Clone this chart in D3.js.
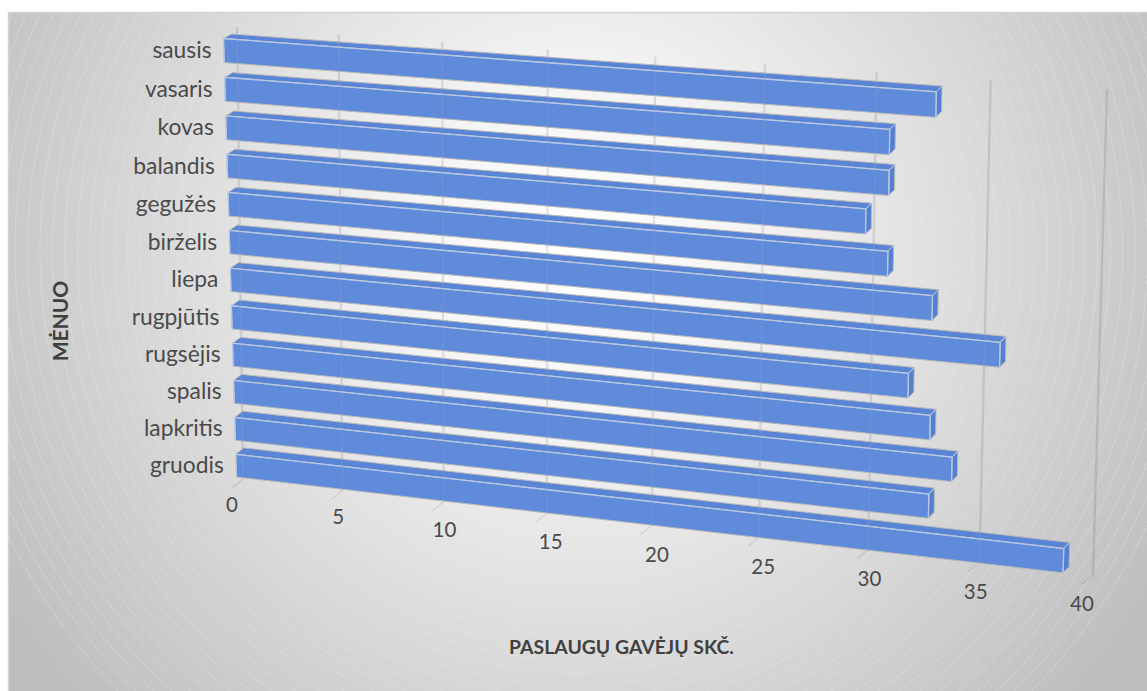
<!DOCTYPE html>
<html><head><meta charset="utf-8">
<script src="https://cdn.jsdelivr.net/npm/d3@7"></script>
<style>html,body{margin:0;padding:0;background:#fff}svg{display:block}text{font-family:Lato,"Open Sans",sans-serif}</style>
</head><body><svg id="c" width="1147" height="691"></svg>
<script>
const categories = ["sausis","vasaris","kovas","balandis","gegužės","birželis","liepa","rugpjūtis","rugsėjis","spalis","lapkritis","gruodis"];
const values = [33,31,31,30,31,33,36,32,33,34,33,39];
const valueTicks = [0,5,10,15,20,25,30,35,40];
const xTitle = "PASLAUGŲ GAVĖJŲ SKČ.";
const yTitle = "MĖNUO";

function quad(p00,p10,p11,p01){
  const [x0,y0]=p00,[x1,y1]=p10,[x2,y2]=p11,[x3,y3]=p01;
  const dx1=x1-x2,dx2=x3-x2,sx=x0-x1+x2-x3,dy1=y1-y2,dy2=y3-y2,sy=y0-y1+y2-y3;
  const den=dx1*dy2-dx2*dy1;
  const g=(sx*dy2-dx2*sy)/den,h=(dx1*sy-sx*dy1)/den;
  const a=x1-x0+g*x1,b=x3-x0+h*x3,d=y1-y0+g*y1,e=y3-y0+h*y3;
  return (u,w)=>{const q=g*u+h*w+1;return [(a*u+b*w+x0)/q,(d*u+e*w+y0)/q];};
}
const u = d3.scaleLinear().domain([0,40]).range([0,1]);
const band = d3.scaleBand().domain(categories).range([0,1]).paddingInner(0.38).paddingOuter(0);
const front = quad([223.5,38.5],[1100,104],[1086,575.5],[236.5,477]);
const back  = quad([231.5,34],[1106,98],[1092,569.5],[244.5,470.5]);
const wall  = quad([237,27],[1107,89],[1093,575],[243,479]);
const labelX = d3.scaleLinear().domain([0,40]).range([232,1082]);
const labelY = d3.scaleLinear().domain([0,40]).range([512,611]);

const svg = d3.select("#c");
const defs = svg.append("defs");
const W=1147,H=691,cx=575,cy=250;
const rg = defs.append("radialGradient").attr("id","bg").attr("gradientUnits","userSpaceOnUse")
  .attr("cx",cx).attr("cy",cy).attr("r",680);
[[0,"#ffffff"],[0.25,"#f4f4f4"],[0.55,"#dedede"],[0.85,"#c8c8c8"],[1,"#bdbdbd"]]
  .forEach(([o,c])=>rg.append("stop").attr("offset",o).attr("stop-color",c));
defs.append("clipPath").attr("id","area").append("rect").attr("x",8).attr("y",12).attr("width",W-8).attr("height",H-12);
const wt = d=>band(d.c), wb = d=>band(d.c)+band.bandwidth();
const P = pts=>"M"+pts.map(p=>p.join(",")).join("L")+"Z";
const rows = categories.map((c,i)=>({c,v:values[i]}));
defs.append("clipPath").attr("id","faces").selectAll("path").data(rows).join("path")
  .attr("d",d=>P([back(0,wt(d)),back(u(d.v),wt(d)),front(u(d.v),wt(d)),front(u(d.v),wb(d)),front(0,wb(d)),front(0,wt(d))]));

svg.append("rect").attr("x",8).attr("y",12).attr("width",W-8).attr("height",H-12).attr("fill","url(#bg)");
svg.append("path").attr("d",`M8.5,${H}V12.5H${W}`).attr("fill","none").attr("stroke","#d2d2d2").attr("stroke-width",1.5);

const rings = svg.append("g").attr("clip-path","url(#area)");
rings.selectAll("circle").data(d3.range(260,640,12.5)).join("circle")
  .attr("cx",cx).attr("cy",cy).attr("r",d=>d).attr("fill","none")
  .attr("stroke","#fff").attr("stroke-opacity",d=>0.1+0.22*(d-260)/380).attr("stroke-width",0.9).attr("stroke-dasharray","5 1");

const line = d3.line();
const grid = svg.append("g");
grid.selectAll("path.g").data(valueTicks).join("path").attr("class","g")
  .attr("d",v=>line([wall(u(v),0),wall(u(v),1)]))
  .attr("fill","none").attr("stroke","#000").attr("stroke-opacity",0.1).attr("stroke-width",2.3);
grid.selectAll("path.t").data(valueTicks).join("path").attr("class","t")
  .attr("d",v=>{const p=wall(u(v),1);return line([p,[p[0]-11,p[1]+9]]);})
  .attr("fill","none").attr("stroke","#000").attr("stroke-opacity",0.09).attr("stroke-width",1.4);
grid.selectAll("text").data(valueTicks).join("text")
  .attr("x",v=>labelX(v)).attr("y",v=>labelY(v))
  .attr("text-anchor","middle").attr("font-size",20.5).attr("fill","#4a4a4a").text(d=>d);

const bars = svg.append("g").selectAll("g").data(rows).join("g");
const edge = "#b9b9b9", hi = "#b7c8e6";
bars.append("path").attr("d",d=>P([front(0,wt(d)),back(0,wt(d)),back(u(d.v),wt(d)),front(u(d.v),wt(d))]))
  .attr("fill","#5a85d6").attr("stroke",edge).attr("stroke-width",1);
bars.append("path").attr("d",d=>P([front(u(d.v),wt(d)),back(u(d.v),wt(d)),back(u(d.v),wb(d)),front(u(d.v),wb(d))]))
  .attr("fill","#5480d2").attr("stroke",edge).attr("stroke-width",1);
bars.append("path").attr("d",d=>P([front(0,wt(d)),front(u(d.v),wt(d)),front(u(d.v),wb(d)),front(0,wb(d))]))
  .attr("fill","#5f8bda").attr("stroke",edge).attr("stroke-width",1);
bars.append("path").attr("d",d=>line([front(0,wb(d)),front(0,wt(d)),front(u(d.v),wt(d)),front(u(d.v),wb(d))]))
  .attr("fill","none").attr("stroke",hi).attr("stroke-width",1.3);
bars.append("path").attr("d",d=>line([front(u(d.v),wt(d)),back(u(d.v),wt(d))]))
  .attr("fill","none").attr("stroke",hi).attr("stroke-width",1);
svg.append("g").attr("clip-path","url(#faces)").selectAll("path").data(valueTicks).join("path")
  .attr("d",v=>line([wall(u(v),0),wall(u(v),1)]))
  .attr("fill","none").attr("stroke","#8ba2cc").attr("stroke-opacity",0.3).attr("stroke-width",1.4);

svg.append("g").selectAll("text").data(categories).join("text")
  .attr("x",c=>front(0,band(c))[0]-12)
  .attr("y",c=>front(0,band(c)+band.bandwidth()/2)[1]+7.5)
  .attr("text-anchor","end").attr("font-size",22.8).attr("fill","#4a4a4a").text(d=>d);

svg.append("text").attr("x",621.5).attr("y",654).attr("text-anchor","middle")
  .attr("font-size",19.4).attr("font-weight",700).attr("fill","#404040").text(xTitle);
svg.append("text").attr("transform","translate(68,321) rotate(-90)").attr("text-anchor","middle")
  .attr("font-size",21).attr("font-weight",700).attr("fill","#404040").text(yTitle);
</script></body></html>
